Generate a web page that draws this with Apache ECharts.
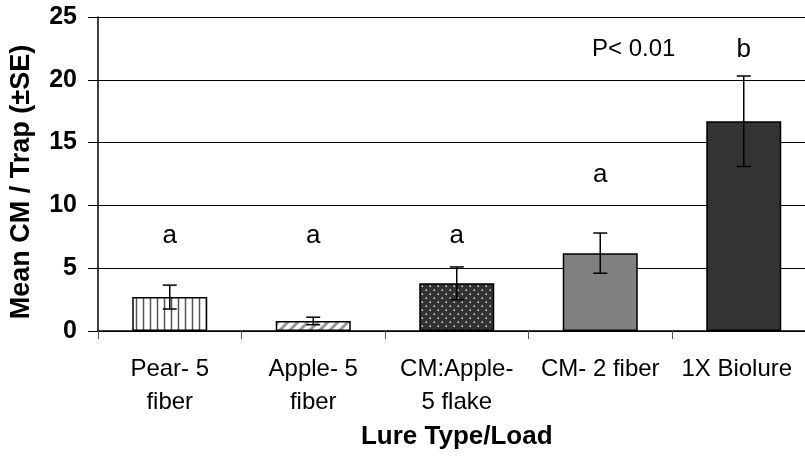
<!DOCTYPE html>
<html>
<head>
<meta charset="utf-8">
<script src="https://cdn.jsdelivr.net/npm/echarts@6/dist/echarts.min.js"></script>
<style>
  html, body { margin: 0; padding: 0; background: #fff; overflow: hidden; }
</style>
</head>
<body>
<div id="myChart" style="width: 805px; height: 472px;"></div>
<script>
// data
const categories = ['Pear- 5\nfiber', 'Apple- 5\nfiber', 'CM:Apple-\n5 flake', 'CM- 2 fiber', '1X Biolure']
const means = [2.7, 0.8, 3.8, 6.2, 16.7]
const stdErrors = [0.95, 0.3, 1.3, 1.6, 3.6]
const letters = ['a', 'a', 'a', 'a', 'b']
const letterLevels = [7.6, 7.6, 7.6, 12.4, 22.4]
const fills = ['vlines', 'hatch', 'dots', '#808080', '#333333']

const font = 'Liberation Sans, Arial, sans-serif'

// small canvas tiles for the patterned bars
function makePattern (kind) {
  let c = document.createElement('canvas')
  let ctx = c.getContext('2d')
  if (kind === 'vlines') {
    c.width = 7; c.height = 7
    ctx.fillStyle = '#fff'
    ctx.fillRect(0, 0, 7, 7)
    ctx.strokeStyle = '#555'
    ctx.lineWidth = 1.5
    ctx.beginPath(); ctx.moveTo(3.5, 0); ctx.lineTo(3.5, 7); ctx.stroke()
  } else if (kind === 'hatch') {
    c.width = 10; c.height = 10
    ctx.fillStyle = '#fff'
    ctx.fillRect(0, 0, 10, 10)
    ctx.strokeStyle = '#999'
    ctx.lineWidth = 3
    ctx.beginPath()
    ctx.moveTo(0, 10); ctx.lineTo(10, 0)
    ctx.moveTo(-5, 5); ctx.lineTo(5, -5)
    ctx.moveTo(5, 15); ctx.lineTo(15, 5)
    ctx.stroke()
  } else {
    c.width = 8; c.height = 8
    ctx.fillStyle = '#333'
    ctx.fillRect(0, 0, 8, 8)
    ctx.fillStyle = '#ddd'
    ctx.fillRect(1.5, 1.5, 1.5, 1.5)
    ctx.fillRect(5.5, 5.5, 1.5, 1.5)
  }
  return c
}

let barData = means.map((v, i) => {
  let f = fills[i]
  let color = f.charAt(0) === '#' ? f : { image: makePattern(f), repeat: 'repeat' }
  return { value: v, itemStyle: { color: color } }
})

// last label sits a little left, it is kept inside the picture in the original
let catData = categories.map((c, i) => i === categories.length - 1
  ? { value: c, textStyle: { padding: [0, 14, 0, 0] } }
  : c)

let errData = means.map((v, i) => [i, v - stdErrors[i], v + stdErrors[i]])
let letterData = letters.map((t, i) => [i, letterLevels[i], t])

let myChart = echarts.init(document.getElementById('myChart'))
myChart.setOption({
  backgroundColor: '#fff',
  animation: false,
  textStyle: { fontFamily: font },
  // plot area runs past the right edge of the picture, as in the original
  grid: { left: 98, top: 17, width: 717.5, height: 314, outerBoundsMode: 'none', containLabel: false },
  xAxis: {
    type: 'category',
    data: catData,
    name: 'Lure Type/Load',
    nameLocation: 'middle',
    nameGap: 80,
    nameTextStyle: { fontFamily: font, fontSize: 26, fontWeight: 'bold', color: '#000' },
    axisLine: { lineStyle: { color: '#000', width: 1.5 } },
    axisTick: { show: true, interval: 0, length: 8, lineStyle: { color: '#555' } },
    axisLabel: { interval: 0, margin: 22, fontFamily: font, fontSize: 24, color: '#000', lineHeight: 33 }
  },
  yAxis: {
    type: 'value',
    min: 0,
    max: 25,
    interval: 5,
    name: 'Mean CM / Trap (±SE)',
    nameLocation: 'middle',
    nameGap: 63,
    nameTextStyle: { fontFamily: font, fontSize: 27, fontWeight: 'bold', color: '#000', padding: [0, 16, 0, 0] },
    axisLine: { show: true, lineStyle: { color: '#000', width: 1.5 } },
    axisTick: { show: true, length: 10, lineStyle: { color: '#000' } },
    axisLabel: { margin: 21, fontFamily: font, fontSize: 25, fontWeight: 'bold', color: '#000' },
    splitLine: { lineStyle: { color: '#000', width: 1 } }
  },
  graphic: [{
    type: 'text',
    left: 592,
    top: 37,
    style: { text: 'P< 0.01', font: '24px ' + font, fill: '#000' }
  }],
  series: [
    {
      type: 'bar',
      data: barData,
      barWidth: 75,
      itemStyle: { borderColor: '#000', borderWidth: 1.5 }
    },
    {
      // standard error bars
      type: 'custom',
      data: errData,
      z: 5,
      renderItem: function (params, api) {
        let lo = api.coord([api.value(0), api.value(1)])
        let hi = api.coord([api.value(0), api.value(2)])
        let half = 7
        let st = { stroke: '#000', lineWidth: 1.5 }
        return {
          type: 'group',
          children: [
            { type: 'line', shape: { x1: lo[0], y1: lo[1], x2: hi[0], y2: hi[1] }, style: st },
            { type: 'line', shape: { x1: hi[0] - half, y1: hi[1], x2: hi[0] + half, y2: hi[1] }, style: st },
            { type: 'line', shape: { x1: lo[0] - half, y1: lo[1], x2: lo[0] + half, y2: lo[1] }, style: st }
          ]
        }
      }
    },
    {
      // significance letters
      type: 'custom',
      data: letterData,
      z: 6,
      renderItem: function (params, api) {
        let p = api.coord([api.value(0), api.value(1)])
        return {
          type: 'text',
          x: p[0],
          y: p[1],
          style: {
            text: letterData[params.dataIndex][2],
            font: '26px ' + font,
            fill: '#000',
            align: 'center',
            verticalAlign: 'middle'
          }
        }
      }
    }
  ]
})
</script>
</body>
</html>
